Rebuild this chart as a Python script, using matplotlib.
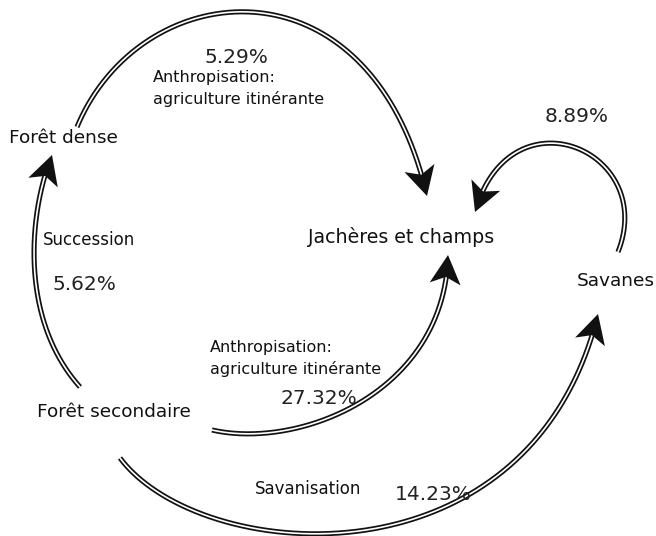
import numpy as np
import matplotlib
matplotlib.use("Agg")
import matplotlib.pyplot as plt

# ---- data ----
nodes = ["Forêt dense", "Jachères et champs", "Savanes", "Forêt secondaire"]
flow_src = ["Forêt dense", "Savanes", "Forêt secondaire", "Forêt secondaire", "Forêt secondaire"]
flow_dst = ["Jachères et champs", "Jachères et champs", "Forêt dense", "Jachères et champs", "Savanes"]
flow_pct = [5.29, 8.89, 5.62, 27.32, 14.23]
flow_label = ["Anthropisation:\nagriculture itinérante", "", "Succession",
              "Anthropisation:\nagriculture itinérante", "Savanisation"]

# ---- layout (pixel coordinates, y downward) ----
W, H = 656, 536
node_pos = {  # left x, baseline y
    "Forêt dense": (9, 143),
    "Jachères et champs": (308, 243),
    "Savanes": (577, 286),
    "Forêt secondaire": (37, 417),
}
# cubic bezier control points for each flow
curves = [
    [(77, 127), (140, -25), (370, -50), (427, 196)],
    [(618, 252), (658, 150), (510, 88), (475, 212)],
    [(80, 387), (20, 320), (28, 215), (52, 155)],
    [(212, 430), (300, 450), (445, 392), (448, 255)],
    [(120, 458), (200, 565), (530, 592), (598, 314)],
]
pct_pos = [(205, 63), (545, 122), (53, 290), (280, 404), (395, 500)]
lab_pos = [(153, 82), None, (43, 245), (210, 352), (255, 494)]

fig = plt.figure(figsize=(W / 100, H / 100), dpi=100)
ax = fig.add_axes([0, 0, 1, 1])
ax.set_xlim(0, W)
ax.set_ylim(H, 0)
ax.axis("off")


def bezier(pts, n=400):
    p = np.array(pts, dtype=float)
    t = np.linspace(0, 1, n)[:, None]
    return ((1 - t) ** 3 * p[0] + 3 * (1 - t) ** 2 * t * p[1]
            + 3 * (1 - t) * t ** 2 * p[2] + t ** 3 * p[3])


HEAD_L, HEAD_W, NOTCH = 29, 31, 22
for pts in curves:
    xy = bezier(pts)
    seg = np.hypot(*np.diff(xy, axis=0).T)
    dist_end = np.concatenate([np.cumsum(seg[::-1])[::-1], [0]])
    tip = xy[-1]
    back = xy[np.argmin(np.abs(dist_end - HEAD_L))]
    d = (tip - back) / np.linalg.norm(tip - back)
    nrm = np.array([-d[1], d[0]])
    shaft = xy[dist_end >= HEAD_L - NOTCH + 2]
    ax.plot(shaft[:, 0], shaft[:, 1], color="#111111", lw=3.7,
            solid_capstyle="butt", solid_joinstyle="round")
    ax.plot(shaft[:, 0], shaft[:, 1], color="white", lw=1.2,
            solid_capstyle="butt")
    base = tip - HEAD_L * d
    head = np.array([tip, base + nrm * HEAD_W / 2, tip - NOTCH * d,
                     base - nrm * HEAD_W / 2])
    ax.fill(head[:, 0], head[:, 1], color="#111111", lw=0, zorder=3)

txt_color = "#111111"
for name in nodes:
    x, y = node_pos[name]
    size = 13.7 if name == "Jachères et champs" else 13.3
    ax.text(x, y, name, fontsize=size, ha="left", va="baseline",
            color=txt_color, family="DejaVu Sans")

for pct, (x, y) in zip(flow_pct, pct_pos):
    ax.text(x, y, f"{pct:.2f}%", fontsize=14.5, ha="left", va="baseline",
            color="#222222", family="DejaVu Sans")

for lab, pos in zip(flow_label, lab_pos):
    if not lab:
        continue
    x, y = pos
    lines = lab.split("\n")
    size = 11.5 if len(lines) > 1 else 12
    for i, line in enumerate(lines):
        ax.text(x, y + i * 22, line, fontsize=size, ha="left",
                va="baseline", color=txt_color, family="DejaVu Sans")

fig.savefig("out.png", dpi=100, facecolor="white")
